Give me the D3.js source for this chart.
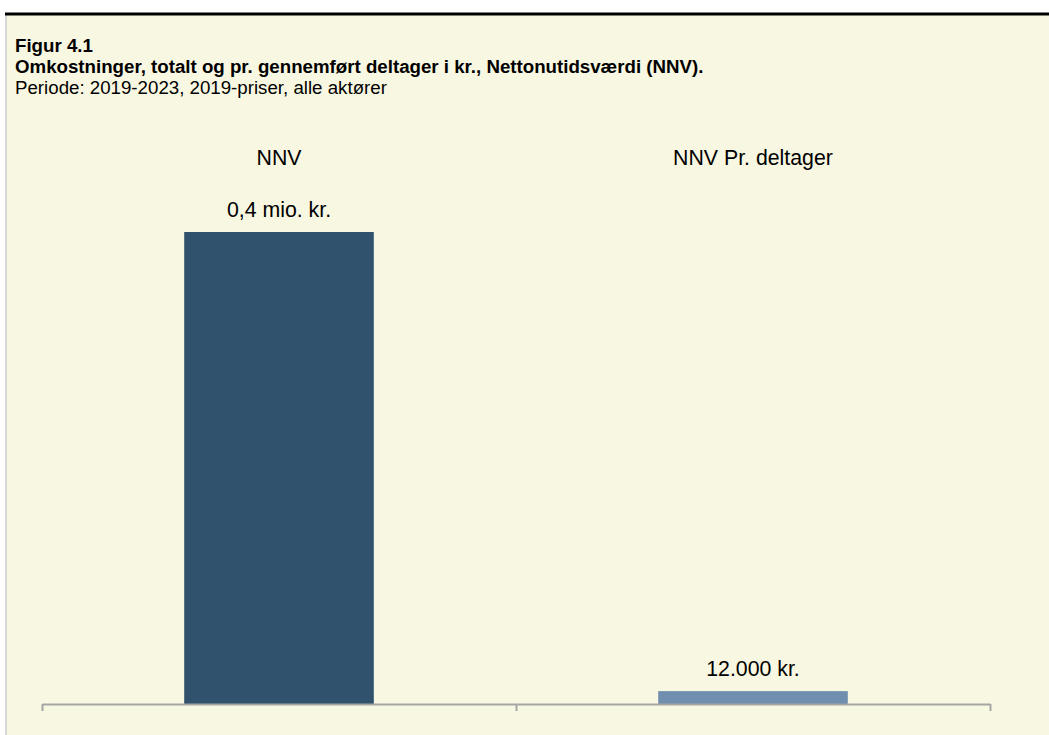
<!DOCTYPE html>
<html>
<head>
<meta charset="utf-8">
<script src="https://cdn.jsdelivr.net/npm/d3@7"></script>
<style>
  body { margin: 0; background: #fff; }
  svg { display: block; font-family: "Liberation Sans", Arial, sans-serif; }
</style>
</head>
<body>
<div id="chart"></div>
<script>
// chart data
const categories = ['NNV', 'NNV Pr. deltager'];
const values = [440000, 12000];
const valueLabels = ['0,4 mio. kr.', '12.000 kr.'];
const titleLines = [
    'Figur 4.1',
    'Omkostninger, totalt og pr. gennemført deltager i kr., Nettonutidsværdi (NNV).',
    'Periode: 2019-2023, 2019-priser, alle aktører'
];
const barColors = ['#30526d', '#708fae'];

const width = 1049, height = 735;
const margin = { top: 232, right: 59, bottom: 31, left: 42 };
const innerW = width - margin.left - margin.right;
const innerH = height - margin.top - margin.bottom;

const svg = d3.select('#chart').append('svg')
    .attr('width', width)
    .attr('height', height);

// panel background and frame
svg.append('rect')
    .attr('x', 5).attr('y', 14)
    .attr('width', width - 5).attr('height', height - 14)
    .attr('fill', '#d9d9d9');
svg.append('rect')
    .attr('x', 7).attr('y', 14)
    .attr('width', width - 7).attr('height', height - 14)
    .attr('fill', '#f8f7e1');
svg.append('line')
    .attr('x1', 5).attr('x2', width)
    .attr('y1', 14).attr('y2', 14)
    .attr('stroke', '#000').attr('stroke-width', 3);

// titles
const title = svg.append('g').attr('transform', 'translate(15,0)');
title.selectAll('text')
    .data(titleLines)
    .join('text')
    .attr('x', 0)
    .attr('y', (d, i) => 52 + i * 21)
    .attr('font-size', 18.7)
    .attr('font-weight', (d, i) => i < 2 ? 'bold' : 'normal')
    .attr('fill', '#000')
    .text(d => d);

const chart = svg.append('g')
    .attr('transform', `translate(${margin.left},${margin.top})`);

const xScale = d3.scaleBand()
    .domain(categories)
    .range([0, innerW])
    .padding(0);

const yScale = d3.scaleLinear()
    .domain([0, d3.max(values)])
    .range([innerH, 0]);

const barW = xScale.bandwidth() * 0.4;

chart.selectAll('rect.bar')
    .data(categories)
    .join('rect')
    .attr('class', 'bar')
    .attr('x', d => xScale(d) + (xScale.bandwidth() - barW) / 2)
    .attr('y', (d, i) => yScale(values[i]))
    .attr('width', barW)
    .attr('height', (d, i) => innerH - yScale(values[i]))
    .attr('fill', (d, i) => barColors[i]);

// value labels above bars
chart.selectAll('text.value')
    .data(categories)
    .join('text')
    .attr('class', 'value')
    .attr('x', d => xScale(d) + xScale.bandwidth() / 2)
    .attr('y', (d, i) => yScale(values[i]) - 15)
    .attr('text-anchor', 'middle')
    .attr('font-size', 21.3)
    .attr('fill', '#000')
    .text((d, i) => valueLabels[i]);

// category labels at the top of each panel
chart.selectAll('text.cat')
    .data(categories)
    .join('text')
    .attr('class', 'cat')
    .attr('x', d => xScale(d) + xScale.bandwidth() / 2)
    .attr('y', -67)
    .attr('text-anchor', 'middle')
    .attr('font-size', 21.3)
    .attr('fill', '#000')
    .text(d => d);

// x axis with ticks between categories
const edgeScale = d3.scaleLinear()
    .domain([0, categories.length])
    .range([0, innerW]);

const xAxis = d3.axisBottom(edgeScale)
    .tickValues(d3.range(categories.length + 1))
    .tickSize(7)
    .tickSizeOuter(0)
    .tickFormat('');

const xAxisG = chart.append('g')
    .attr('transform', `translate(0,${innerH})`)
    .call(xAxis);
xAxisG.selectAll('path, line')
    .attr('stroke', '#a6a6a6')
    .attr('stroke-width', 2);
</script>
</body>
</html>
